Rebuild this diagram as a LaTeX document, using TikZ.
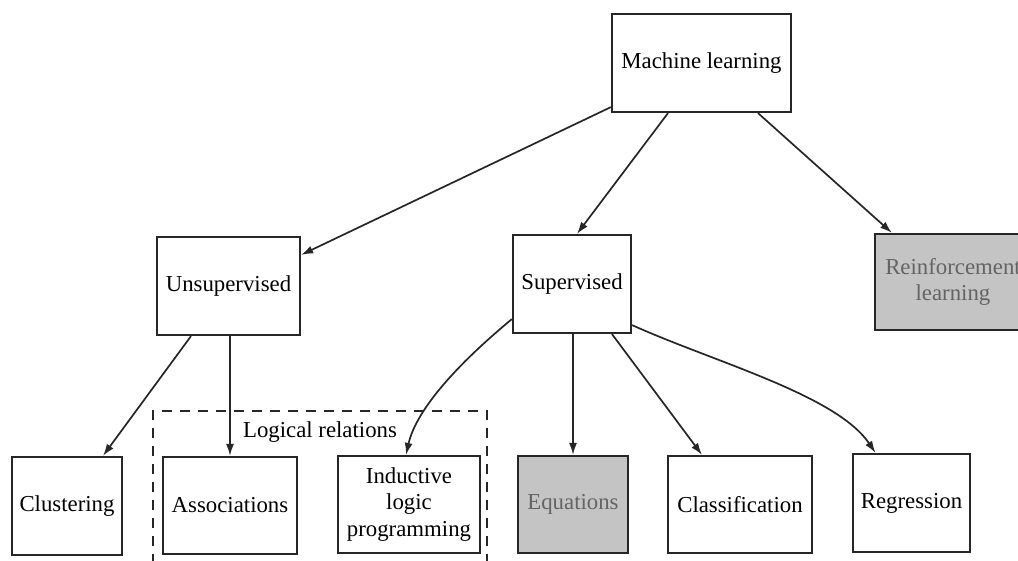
\documentclass[tikz,border=0pt]{standalone}
\usepackage{fontspec}
\setmainfont{Liberation Serif}
\usetikzlibrary{arrows.meta,calc}
\definecolor{boxgray}{RGB}{196,196,196}
\definecolor{textgray}{RGB}{100,100,100}
\tikzset{
  box/.style={draw=black!85, line width=2.2pt, fill=white, inner sep=0pt,
              font=\fontsize{22.8}{26.5}\selectfont, align=center},
  shaded/.style={box, fill=boxgray, text=textgray},
  link/.style={draw=black!85, line width=1.7pt, -{Latex[length=12pt,width=8pt]}},
  frame/.style={draw=black!85, line width=1.7pt, dash pattern=on 10pt off 8pt,
                inner sep=0pt}
}
\begin{document}
\begin{tikzpicture}[x=1pt,y=-1pt]
  \useasboundingbox (0,0) rectangle (1018,561);
  \clip (0,0) rectangle (1018,561);
  \fill[white] (0,0) rectangle (1018,561);

  % group frame for the logic-based methods
  \node[frame, minimum width=334pt, minimum height=179pt] (logic) at (320,500.5) {};
  \node[font=\fontsize{22.8}{26.5}\selectfont] (logiclabel) at (320,432) {Logical relations};

  % top level
  \node[box, minimum width=179pt, minimum height=98pt] (ml) at (701.5,63) {Machine learning};

  % second level
  \node[box, minimum width=143pt, minimum height=98pt] (uns) at (228.5,286) {Unsupervised};
  \node[box, minimum width=118pt, minimum height=98pt] (sup) at (572,284) {Supervised};
  \node[shaded, minimum width=156pt, minimum height=96pt] (rl) at (953,282) {Reinforcement\\learning};

  % leaves
  \node[box, minimum width=110pt, minimum height=98pt] (clu) at (67,506) {Clustering};
  \node[box, minimum width=134pt, minimum height=97pt] (asc) at (230,505.5) {Associations};
  \node[box, minimum width=142pt, minimum height=97pt] (ilp) at (409,504.5) {Inductive\\logic\\programming};
  \node[shaded, minimum width=110pt, minimum height=97pt] (eqn) at (573,504.5) {Equations};
  \node[box, minimum width=144pt, minimum height=97pt] (cls) at (740,504.5) {Classification};
  \node[box, minimum width=117pt, minimum height=98pt] (reg) at (911.5,503) {Regression};

  % connectors
  \draw[link] ($(ml.south west)+(0,-6)$) -- ($(uns.north east)+(0,19)$);
  \draw[link] ($(ml.south)+(-33.5,0)$) -- ($(sup.north)+(5,0)$);
  \draw[link] ($(ml.south)+(56.5,0)$) -- ($(rl.north west)+(18,0)$);

  \draw[link] ($(uns.south)+(-37.5,0)$) -- ($(clu.north)+(36,0)$);
  \draw[link] (asc.north |- uns.south) -- (asc.north);

  \draw[link] ($(sup.south west)+(0,-15)$) .. controls +(-46,38) and +(11,-49) .. ($(ilp.north)+(-3,0)$);
  \draw[link] (eqn.north |- sup.south) -- (eqn.north);
  \draw[link] ($(sup.south)+(40,0)$) -- ($(cls.north)+(-38,0)$);
  \draw[link] ($(sup.south east)+(0,-9)$) .. controls +(82,37) and +(-39,-58) .. ($(reg.north)+(-36,0)$);
\end{tikzpicture}
\end{document}
